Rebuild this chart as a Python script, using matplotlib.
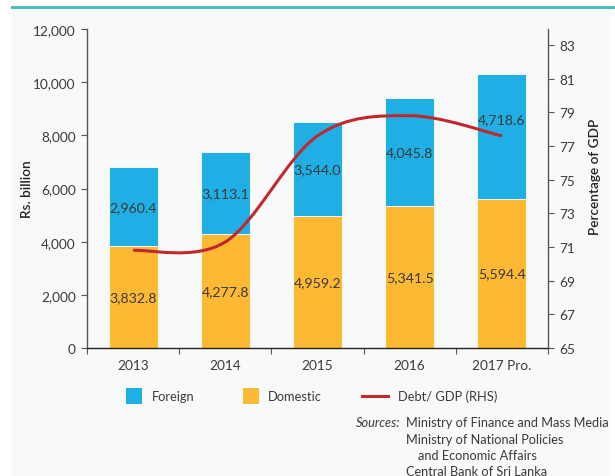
import matplotlib
matplotlib.use("Agg")
import matplotlib.pyplot as plt
import numpy as np
from matplotlib.path import Path
from matplotlib.patches import PathPatch, Rectangle
from matplotlib.lines import Line2D
from matplotlib.ticker import FuncFormatter

years = ["2013", "2014", "2015", "2016", "2017 Pro."]
domestic = [3832.8, 4277.8, 4959.2, 5341.5, 5594.4]
foreign = [2960.4, 3113.1, 3544.0, 4045.8, 4718.6]
debt_gdp = [70.8, 71.3, 77.6, 78.8, 77.6]
left_ticks = [0, 2000, 4000, 6000, 8000, 10000, 12000]
right_ticks = [65, 67, 69, 71, 73, 75, 77, 79, 81, 83]

BLUE = "#1FAFE4"
ORANGE = "#FDB933"
RED = "#C1272D"
TEAL = "#4DBFBE"
BG = "#F8FAFA"
TXT = "#3A3A3A"
AXC = "#555555"

plt.rcParams['font.family'] = ['Lato', 'DejaVu Sans']

W, H = 615, 477
fig = plt.figure(figsize=(W / 100, H / 100), dpi=100, facecolor="white")

# background panel and top teal line
fig.patches.append(Rectangle((12 / W, 0), (610 - 12) / W, 1 - 8 / H,
                             transform=fig.transFigure, facecolor=BG,
                             edgecolor="none", zorder=-10))
fig.add_artist(Line2D([12 / W, 1], [1 - 8 / H, 1 - 8 / H], transform=fig.transFigure,
                      color=TEAL, linewidth=2.2))

ax = fig.add_axes([87 / W, 1 - 349 / H, (548 - 87) / W, (349 - 30) / H])
ax.set_facecolor("none")
x = np.arange(len(years))
bw = 0.53
ax.bar(x, domestic, width=bw, color=ORANGE, edgecolor="white", linewidth=0.6, zorder=2)
ax.bar(x, foreign, bottom=domestic, width=bw, color=BLUE, edgecolor="white", linewidth=0.6, zorder=2)
ax.set_xlim(-0.5, len(years) - 0.5)
ax.set_ylim(0, 12000)
ax.set_yticks(left_ticks)
ax.yaxis.set_major_formatter(FuncFormatter(lambda v, p: f"{int(v):,}"))
ax.set_xticks(x)
ax.set_xticklabels(years)
ax.set_xticks(np.arange(-0.5, len(years)), minor=True)
ax.tick_params(axis='x', which='major', length=0, pad=8, labelsize=9.8, labelcolor=TXT)
ax.tick_params(axis='x', which='minor', length=4, width=0.8, color=AXC, direction='out')
ax.tick_params(axis='y', length=4, width=0.8, color=AXC, labelsize=9.8, labelcolor=TXT, pad=4)
for s in ["top", "right"]:
    ax.spines[s].set_visible(False)
ax.spines["left"].set_color(AXC)
ax.spines["left"].set_linewidth(1.0)
ax.spines["bottom"].set_color("#222222")
ax.spines["bottom"].set_linewidth(1.0)

# value labels
for i in range(len(years)):
    ax.text(x[i], domestic[i] / 2, f"{domestic[i]:,.1f}", ha="center", va="center",
            fontsize=10.2, color=TXT, zorder=5)
    yoff = 0.0
    if i == len(years) - 1:
        yoff = 660
    ax.text(x[i], domestic[i] + foreign[i] / 2 + yoff, f"{foreign[i]:,.1f}", ha="center",
            va="center", fontsize=10.2, color=TXT, zorder=5)

ax2 = ax.twinx()
ax2.set_ylim(65, 83.95)
ax2.set_yticks(right_ticks)
ax2.tick_params(axis='y', length=4, width=0.8, color=AXC, labelsize=9.8, labelcolor=TXT, pad=4)
for s in ["top", "left", "bottom"]:
    ax2.spines[s].set_visible(False)
ax2.spines["right"].set_color(AXC)
ax2.spines["right"].set_linewidth(1.0)

# smooth (Catmull-Rom) curve through debt/GDP points
pts = np.column_stack([x.astype(float), np.array(debt_gdp, dtype=float)])
verts = [tuple(pts[0])]
codes = [Path.MOVETO]
n = len(pts)
for i in range(n - 1):
    p0 = pts[i - 1] if i > 0 else pts[i]
    p1 = pts[i]
    p2 = pts[i + 1]
    p3 = pts[i + 2] if i + 2 < n else pts[i + 1]
    c1 = p1 + (p2 - p0) / 6.0
    c2 = p2 - (p3 - p1) / 6.0
    verts += [tuple(c1), tuple(c2), tuple(p2)]
    codes += [Path.CURVE4] * 3
ax2.add_patch(PathPatch(Path(verts, codes), facecolor="none", edgecolor=RED,
                        linewidth=2.2, capstyle="butt", zorder=6))

fig.text(27 / W, 1 - 189 / H, "Rs. billion", rotation=90, ha="center", va="center",
         fontsize=9.8, color="#222222", fontweight="semibold")
fig.text(595 / W, 1 - 177 / H, "Percentage of GDP", rotation=90, ha="center", va="center",
         fontsize=9.8, color="#222222", fontweight="semibold")

# legend
ly = 1 - 397 / H
sq = 16
fig.patches.append(Rectangle((126 / W, ly - (sq / 2) / H), sq / W, sq / H,
                             transform=fig.transFigure, facecolor=BLUE, edgecolor="none"))
fig.text(152 / W, ly, "Foreign", ha="left", va="center", fontsize=9.3, color=TXT)
fig.patches.append(Rectangle((243 / W, ly - (sq / 2) / H), sq / W, sq / H,
                             transform=fig.transFigure, facecolor=ORANGE, edgecolor="none"))
fig.text(268 / W, ly, "Domestic", ha="left", va="center", fontsize=9.3, color=TXT)
fig.add_artist(Line2D([362 / W, 388 / W], [ly, ly], transform=fig.transFigure,
                      color=RED, linewidth=2.2))
fig.text(398 / W, ly, "Debt/ GDP (RHS)", ha="left", va="center", fontsize=9.3, color=TXT)

# sources
fig.text(356 / W, 1 - 423 / H, "Sources:", ha="left", va="center", fontsize=9.2,
         color=TXT, style="italic")
src_lines = [("Ministry of Finance and Mass Media", 406, 423),
             ("Ministry of National Policies", 406, 440),
             ("and Economic Affairs", 418, 456),
             ("Central Bank of Sri Lanka", 406, 472)]
for t, sx, sy in src_lines:
    fig.text(sx / W, 1 - sy / H, t, ha="left", va="center", fontsize=9.2, color=TXT)

fig.savefig("out.png", dpi=100, facecolor="white")
